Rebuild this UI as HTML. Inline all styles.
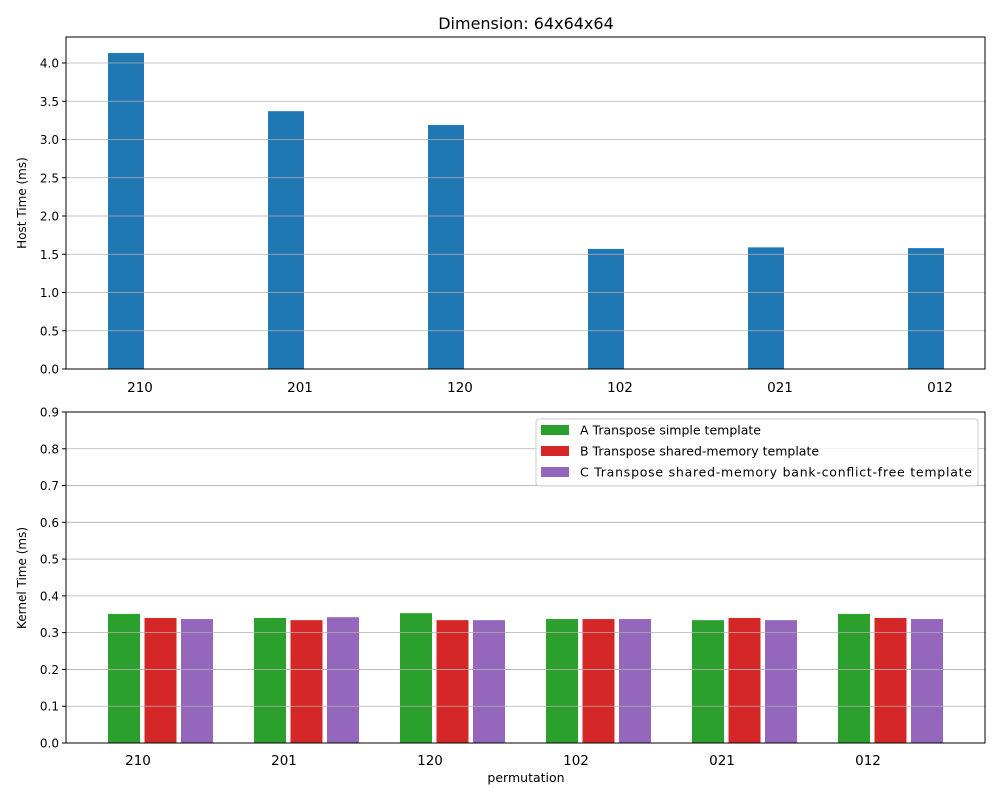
<!DOCTYPE html>
<html><head><meta charset="utf-8"><style>body{margin:0;background:#fff}svg{font-family:"DejaVu Sans","Liberation Sans",sans-serif}</style></head>
<body>
<svg id="c" width="1000" height="800"></svg>
<script>
const cats=["210","201","120","102","021","012"];
const hostVals=[4.13,3.37,3.19,1.57,1.59,1.58];
const hostTicks=["0.0","0.5","1.0","1.5","2.0","2.5","3.0","3.5","4.0"];
const kA=[0.351,0.340,0.353,0.337,0.334,0.351];
const kB=[0.340,0.334,0.334,0.337,0.340,0.340];
const kC=[0.337,0.342,0.334,0.337,0.334,0.337];
const kTicks=["0.0","0.1","0.2","0.3","0.4","0.5","0.6","0.7","0.8","0.9"];
const seriesNames=["A Transpose simple template","B Transpose shared-memory template","C Transpose shared-memory bank-conflict-free template"];
const colors=["#2ca02c","#d62728","#9467bd"];
const svg=document.getElementById('c');const NS="http://www.w3.org/2000/svg";
function mk(t,a,txt){const e=document.createElementNS(NS,t);for(const k in a)e.setAttribute(k,a[k]);if(txt!==undefined)e.textContent=txt;svg.appendChild(e);return e;}
const L=66,R=985,T1=37,B1=369,T2=412,B2=743;
const y1=v=>B1-v*76.5, y2=v=>B2-v*367.8;
let t=mk('text',{x:526,y:29,'font-size':16,'text-anchor':'middle'},"Dimension: 64x64x64");

cats.forEach((c,i)=>{const cx=126+i*160;
 let b=mk('rect',{x:cx-18,y:y1(hostVals[i]),width:36,height:B1-y1(hostVals[i]),fill:'#1f77b4'});
 let e=mk('text',{x:cx+14,y:392,'font-size':13.5,'text-anchor':'middle'},c);});
hostTicks.forEach(s=>{const v=+s,y=y1(v);
 let g=mk('line',{x1:L,x2:R,y1:y,y2:y,stroke:'#b0b0b0','stroke-width':0.8});
 mk('line',{x1:L-4,x2:L,y1:y,y2:y,stroke:'#000'});
 let e=mk('text',{x:L-7,y:y+4.5,'font-size':12,'text-anchor':'end'},s);});
let f=mk('rect',{x:L,y:T1,width:R-L,height:B1-T1,fill:'none',stroke:'#000','stroke-width':1});
t=mk('text',{x:26,y:203,'font-size':12,'text-anchor':'middle',transform:'rotate(-90 26 203)'},"Host Time (ms)");
[kA,kB,kC].forEach((arr,s)=>arr.forEach((v,i)=>{const x=108+i*146+s*36.5;
 let b=mk('rect',{x:x,y:y2(v),width:32,height:B2-y2(v),fill:colors[s]});}));
kTicks.forEach(s=>{const v=+s,y=y2(v);
 let g=mk('line',{x1:L,x2:R,y1:y,y2:y,stroke:'#b0b0b0','stroke-width':0.8});
 mk('line',{x1:L-4,x2:L,y1:y,y2:y,stroke:'#000'});
 let e=mk('text',{x:L-7,y:y+4.5,'font-size':12,'text-anchor':'end'},s);});
cats.forEach((c,i)=>{let e=mk('text',{x:138+i*146,y:765,'font-size':13.5,'text-anchor':'middle'},c);});
f=mk('rect',{x:L,y:T2,width:R-L,height:B2-T2,fill:'none',stroke:'#000','stroke-width':1});
t=mk('text',{x:26,y:578,'font-size':12,'text-anchor':'middle',transform:'rotate(-90 26 578)'},"Kernel Time (ms)");
t=mk('text',{x:526,y:782,'font-size':12.5,'text-anchor':'middle'},"permutation");
let lg=mk('rect',{x:536,y:419,width:442,height:67,rx:3,fill:'#fff','fill-opacity':0.8,stroke:'#ccc'});
seriesNames.forEach((n,s)=>{const y=430+s*21;
 let p=mk('rect',{x:541,y:y-5,width:28,height:10,fill:colors[s]});
 let e=mk('text',{x:580,y:y+4.5,'font-size':12.5,textLength:n.length>40?392:undefined},n);
 if(n.length<=40)e.removeAttribute('textLength');
 });
</script>
</body></html>
